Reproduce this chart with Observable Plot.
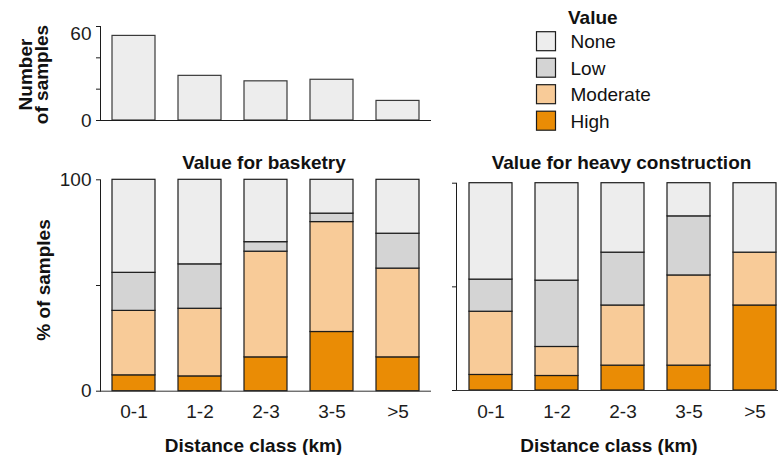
<!DOCTYPE html>
<html>
<head>
<meta charset="utf-8">
<script src="https://cdn.jsdelivr.net/npm/d3@7"></script>
<script src="https://cdn.jsdelivr.net/npm/@observablehq/plot@0.6"></script>
<style>
  html, body { margin: 0; padding: 0; background: #fff; }
  #root { position: relative; width: 778px; height: 455px; overflow: hidden;
          font-family: "Liberation Sans", Arial, Helvetica, sans-serif; }
  #root > svg, #root > figure { position: absolute; margin: 0; }
</style>
</head>
<body>
<div id="root"></div>
<script>
// ---- data ----
const classes = ["0-1", "1-2", "2-3", "3-5", ">5"];
const sampleCounts = [54, 28.5, 25, 26, 12.5];
const levels = ["None", "Low", "Moderate", "High"];
const levelColors = ["#ededed", "#d4d4d4", "#f8cb98", "#ea8c05"];
const stackOrder = ["High", "Moderate", "Low", "None"];
// % of samples, Value for basketry
const basketryHigh     = [7.5, 7, 16, 28, 16];
const basketryModerate = [30.5, 32, 50, 52, 42];
const basketryLow      = [18, 21, 4.5, 4, 16.5];
const basketryNone     = [44, 40, 29.5, 16, 25.5];
// % of samples, Value for heavy construction
const heavyHigh     = [7.5, 7, 12, 12, 41];
const heavyModerate = [30.5, 14, 29, 43.5, 25.5];
const heavyLow      = [15.5, 32, 25.5, 28.5, 0];
const heavyNone     = [46.5, 47, 33.5, 16, 33.5];
const yTicksCount = [0, 20, 40, 60];
const yTicksPct = [0, 50, 100];

const FONT = '"Liberation Sans", Arial, Helvetica, sans-serif';
const rootEl = document.getElementById("root");
const INK = "#1c1c1c";

function place(el, x, y) {
  el.style.position = "absolute";
  el.style.left = x + "px";
  el.style.top = y + "px";
  rootEl.appendChild(el);
}

function toRows(series) {
  return classes.flatMap((c, i) => stackOrder.map(l => ({cls: c, level: l, pct: series[l][i]})));
}

const baseStyle = {fontSize: "19px", fontFamily: FONT, color: INK, background: "transparent", overflow: "visible"};

// ---- top: number of samples ----
const countRows = classes.map((c, i) => ({cls: c, n: sampleCounts[i]}));
const topChart = Plot.plot({
  width: 440, height: 140,
  marginLeft: 100, marginRight: 9, marginTop: 26, marginBottom: 20,
  style: baseStyle,
  x: {domain: classes, paddingInner: 0.35, paddingOuter: 0.175, axis: null},
  y: {domain: [0, 60], axis: null},
  marks: [
    Plot.barY(countRows, {x: "cls", y: "n", fill: "#ededed", stroke: "#3a3a3a", strokeWidth: 1.2}),
    Plot.axisY({ticks: yTicksCount, tickSize: 4, tickPadding: 5, label: null, tickFormat: d => d === 0 ? "0" : ""}),
    Plot.text([60], {y: d => d, frameAnchor: "left", dx: -9, dy: 7, textAnchor: "end", text: d => String(d)}),
    Plot.frame({anchor: "left", stroke: INK}),
    Plot.ruleY([0], {stroke: INK})
  ]
});
place(topChart, 0, 0);

// ---- stacked panels ----
function panel(series, opts) {
  const rows = toRows(series);
  return Plot.plot({
    width: opts.width, height: 280,
    marginLeft: opts.ml, marginRight: opts.mr, marginTop: opts.mt, marginBottom: opts.mb,
    style: baseStyle,
    x: {domain: classes, paddingInner: 0.35, paddingOuter: 0.175, label: null},
    y: {domain: [0, 100], axis: null},
    color: {domain: levels, range: levelColors},
    marks: [
      Plot.barY(rows, {x: "cls", y: "pct", fill: "level", order: stackOrder, stroke: INK, strokeWidth: 1.2}),
      Plot.axisX({tickSize: 0, tickPadding: opts.tp, label: null}),
      Plot.axisY({ticks: yTicksPct, tickSize: 4, tickPadding: 5, label: null,
                  tickFormat: d => (opts.labels && d !== 50) ? String(d) : ""}),
      Plot.frame({anchor: "left", stroke: INK}),
      Plot.ruleY([0], {stroke: "#333"})
    ]
  });
}

const leftChart = panel(
  {High: basketryHigh, Moderate: basketryModerate, Low: basketryLow, None: basketryNone},
  {width: 440, ml: 100, mr: 9, mt: 29.3, mb: 39.3, tp: 13, labels: true});
place(leftChart, 0, 150);

const rightChart = panel(
  {High: heavyHigh, Moderate: heavyModerate, Low: heavyLow, None: heavyNone},
  {width: 360, ml: 26, mr: 2, mt: 32.7, mb: 40, tp: 13.5, labels: false});
place(rightChart, 430, 150);

// ---- overlay text & legend ----
const ov = d3.create("svg")
  .attr("width", 778).attr("height", 455)
  .style("font-family", FONT).style("pointer-events", "none");
place(ov.node(), 0, 0);

const bold = (x, y, t, rot) => {
  const s = ov.append("text").attr("font-size", 19).attr("font-weight", "bold")
    .attr("fill", "#111").attr("text-anchor", "middle").text(t);
  if (rot) s.attr("transform", `translate(${x},${y}) rotate(-90)`);
  else s.attr("x", x).attr("y", y);
  return s;
};
bold(264, 169, "Value for basketry");
bold(621.5, 168.5, "Value for heavy construction");
bold(253.5, 452, "Distance class (km)");
bold(609, 452, "Distance class (km)");
bold(50, 280, "% of samples", true);
bold(31.5, 74.5, "Number", true);
bold(48, 74.5, "of samples", true);

// legend
ov.append("text").attr("x", 568).attr("y", 23.5).attr("font-size", 19).attr("font-weight", "bold")
  .attr("fill", "#111").text("Value");
const lg = ov.append("g");
levels.forEach((l, i) => {
  const y0 = 31.7 + i * 26.5;
  lg.append("rect").attr("x", 536.5).attr("y", y0).attr("width", 19).attr("height", 19)
    .attr("fill", levelColors[i]).attr("stroke", INK).attr("stroke-width", 1.2);
  lg.append("text").attr("x", 570.5).attr("y", y0 + 9.5 + 6.8).attr("font-size", 19)
    .attr("fill", "#111").text(l);
});
</script>
</body>
</html>
